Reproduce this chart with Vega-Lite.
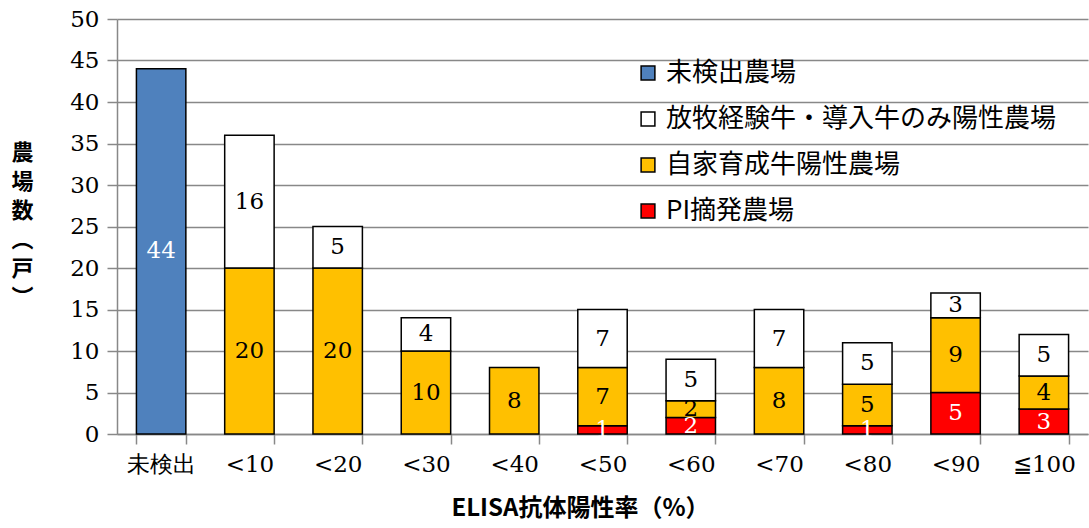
{
  "$schema": "https://vega.github.io/schema/vega-lite/v6.json",
  "width": 971,
  "height": 415,
  "autosize": {"type": "none"},
  "padding": {"left": 117, "top": 19, "right": 1, "bottom": 94},
  "background": "white",
  "config": {"view": {"stroke": null}},
  "data": {
    "values": [
      {"cat": "未検出", "series": "未検出農場", "value": 44},
      {"cat": "<10", "series": "自家育成牛陽性農場", "value": 20},
      {"cat": "<10", "series": "放牧経験牛・導入牛のみ陽性農場", "value": 16},
      {"cat": "<20", "series": "自家育成牛陽性農場", "value": 20},
      {"cat": "<20", "series": "放牧経験牛・導入牛のみ陽性農場", "value": 5},
      {"cat": "<30", "series": "自家育成牛陽性農場", "value": 10},
      {"cat": "<30", "series": "放牧経験牛・導入牛のみ陽性農場", "value": 4},
      {"cat": "<40", "series": "自家育成牛陽性農場", "value": 8},
      {"cat": "<50", "series": "PI摘発農場", "value": 1},
      {"cat": "<50", "series": "自家育成牛陽性農場", "value": 7},
      {"cat": "<50", "series": "放牧経験牛・導入牛のみ陽性農場", "value": 7},
      {"cat": "<60", "series": "PI摘発農場", "value": 2},
      {"cat": "<60", "series": "自家育成牛陽性農場", "value": 2},
      {"cat": "<60", "series": "放牧経験牛・導入牛のみ陽性農場", "value": 5},
      {"cat": "<70", "series": "自家育成牛陽性農場", "value": 8},
      {"cat": "<70", "series": "放牧経験牛・導入牛のみ陽性農場", "value": 7},
      {"cat": "<80", "series": "PI摘発農場", "value": 1},
      {"cat": "<80", "series": "自家育成牛陽性農場", "value": 5},
      {"cat": "<80", "series": "放牧経験牛・導入牛のみ陽性農場", "value": 5},
      {"cat": "<90", "series": "PI摘発農場", "value": 5},
      {"cat": "<90", "series": "自家育成牛陽性農場", "value": 9},
      {"cat": "<90", "series": "放牧経験牛・導入牛のみ陽性農場", "value": 3},
      {"cat": "≦100", "series": "PI摘発農場", "value": 3},
      {"cat": "≦100", "series": "自家育成牛陽性農場", "value": 4},
      {"cat": "≦100", "series": "放牧経験牛・導入牛のみ陽性農場", "value": 5}
    ]
  },
  "transform": [
    {"calculate": "indexof(['PI摘発農場','自家育成牛陽性農場','放牧経験牛・導入牛のみ陽性農場','未検出農場'], datum.series)", "as": "ord"},
    {"stack": "value", "groupby": ["cat"], "sort": [{"field": "ord", "order": "ascending"}], "as": ["v0", "v1"]},
    {"calculate": "(datum.v0 + datum.v1) / 2", "as": "mid"}
  ],
  "encoding": {
    "x": {
      "field": "cat",
      "type": "nominal",
      "sort": ["未検出", "<10", "<20", "<30", "<40", "<50", "<60", "<70", "<80", "<90", "≦100"],
      "scale": {"paddingInner": 0.44, "paddingOuter": 0.22},
      "axis": {
        "title": "ELISA抗体陽性率（%）",
        "titleFont": "Noto Sans CJK JP",
        "titleFontWeight": "bold",
        "titleFontSize": 24,
        "titleColor": "black",
        "titlePadding": 20,
        "titleX": 463,
        "titleAnchor": "start",
        "titleAlign": "center",
        "labelFont": "DejaVu Serif",
        "labelFontSize": 23,
        "labelColor": "black",
        "labelAngle": 0,
        "labelPadding": 9,
        "tickSize": 10,
        "tickBand": "extent",
        "tickColor": "#888888",
        "tickWidth": 1.5,
        "domainColor": "#888888",
        "domainWidth": 1.5
      }
    }
  },
  "layer": [
    {
      "mark": {"type": "bar", "stroke": "black", "strokeWidth": 1.5},
      "encoding": {
        "y": {
          "field": "v0",
          "type": "quantitative",
          "scale": {"domain": [0, 50], "nice": false},
          "axis": {
            "values": [0, 5, 10, 15, 20, 25, 30, 35, 40, 45, 50],
            "grid": true,
            "gridColor": "#888888",
            "gridWidth": 1.5,
            "domainColor": "#888888",
            "domainWidth": 1.5,
            "tickColor": "#888888",
            "tickWidth": 1.5,
            "tickSize": 10,
            "labelFont": "DejaVu Serif",
            "labelFontSize": 23,
            "labelColor": "black",
            "labelPadding": 8,
            "title": ["農", "場", "数", "︵", "戸", "︶"],
            "titleFont": "Noto Sans CJK JP",
            "titleFontWeight": "bold",
            "titleFontSize": 22,
            "titleLineHeight": 29,
            "titleColor": "black",
            "titleAngle": 0,
            "titleAlign": "center",
            "titleBaseline": "top",
            "titleX": -95,
            "titleY": 123
          }
        },
        "y2": {"field": "v1"},
        "color": {
          "field": "series",
          "type": "nominal",
          "scale": {
            "domain": ["未検出農場", "放牧経験牛・導入牛のみ陽性農場", "自家育成牛陽性農場", "PI摘発農場"],
            "range": ["#4F81BD", "#FFFFFF", "#FFC000", "#FF0000"]
          },
          "legend": {
            "orient": "none",
            "legendX": 518,
            "legendY": 41,
            "title": null,
            "labelFont": "Noto Sans CJK JP",
            "labelFontSize": 26,
            "labelColor": "black",
            "labelLimit": 0,
            "symbolType": "square",
            "symbolSize": 190,
            "symbolStrokeColor": "black",
            "symbolStrokeWidth": 1.5,
            "symbolOpacity": 1,
            "rowPadding": 20,
            "labelOffset": 5
          }
        }
      }
    },
    {
      "mark": {"type": "text", "font": "DejaVu Serif", "fontSize": 23, "baseline": "middle", "align": "center"},
      "encoding": {
        "y": {"field": "mid", "type": "quantitative"},
        "text": {"field": "value", "type": "quantitative"},
        "color": {
          "condition": {"test": "datum.series === '未検出農場' || datum.series === 'PI摘発農場'", "value": "white"},
          "value": "black"
        }
      }
    }
  ]
}
